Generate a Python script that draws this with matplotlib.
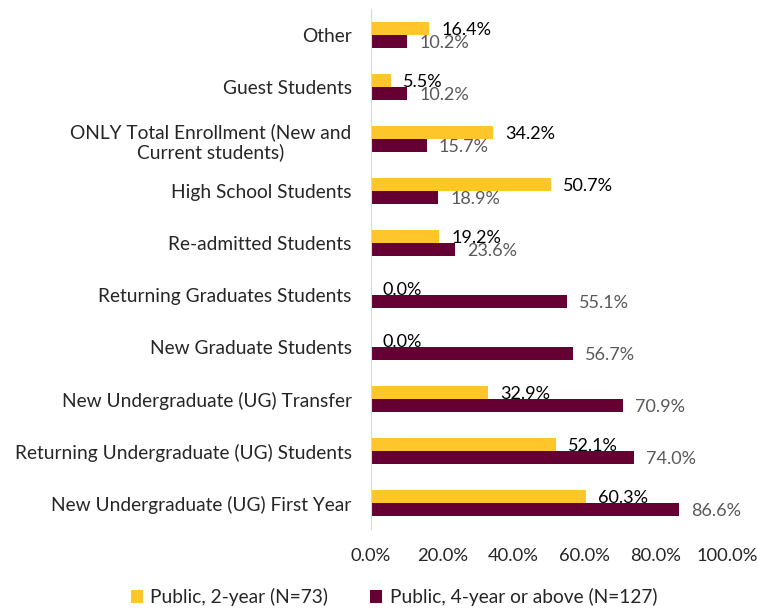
import matplotlib
matplotlib.use("Agg")
import matplotlib.pyplot as plt
import numpy as np

categories = [
    "Other",
    "Guest Students",
    "ONLY Total Enrollment (New and\nCurrent students)",
    "High School Students",
    "Re-admitted Students",
    "Returning Graduates Students",
    "New Graduate Students",
    "New Undergraduate (UG) Transfer",
    "Returning Undergraduate (UG) Students",
    "New Undergraduate (UG) First Year",
]
public_2yr = [16.4, 5.5, 34.2, 50.7, 19.2, 0.0, 0.0, 32.9, 52.1, 60.3]
public_4yr = [10.2, 10.2, 15.7, 18.9, 23.6, 55.1, 56.7, 70.9, 74.0, 86.6]
series_names = ["Public, 2-year (N=73)", "Public, 4-year or above (N=127)"]

plt.rcParams['font.family'] = ['Lato', 'DejaVu Sans']

fig = plt.figure(figsize=(7.58, 6.10), dpi=100)
ax = fig.add_axes([0.4894, 0.1328, 0.4697, 0.852])

y = np.arange(len(categories))
h = 0.25
b1 = ax.barh(y - h / 2, public_2yr, height=h, color="#FFC629", label=series_names[0])
b2 = ax.barh(y + h / 2, public_4yr, height=h, color="#660033", label=series_names[1])

for rect, v in zip(b1, public_2yr):
    ax.annotate(f"{v:.1f}%", (rect.get_width(), rect.get_y() + rect.get_height() / 2),
                xytext=(12, -1), textcoords="offset pixels", va="center", ha="left",
                fontsize=13, color="#000000")
for rect, v in zip(b2, public_4yr):
    ax.annotate(f"{v:.1f}%", (rect.get_width(), rect.get_y() + rect.get_height() / 2),
                xytext=(12, -1), textcoords="offset pixels", va="center", ha="left",
                fontsize=13, color="#595959")

ax.set_ylim(len(categories) - 0.5, -0.5)
ax.set_yticks(y)
ax.set_yticklabels(categories, fontsize=13.8, color="#262626", ha="right", multialignment="center")
ax.tick_params(axis="y", length=0, pad=14)
ax.set_xlim(0, 100)
ax.set_xticks(np.arange(0, 101, 20))
ax.set_xticklabels([f"{t:.1f}%" for t in range(0, 101, 20)], fontsize=13.2, color="#262626")
ax.tick_params(axis="x", length=0, pad=14)

for s in ["top", "right", "bottom"]:
    ax.spines[s].set_visible(False)
ax.spines["left"].set_color("#D9D9D9")

fig.legend(handles=[b1, b2], loc="center", bbox_to_anchor=(0.52, 0.021), ncol=2,
           frameon=False, fontsize=13.8, handlelength=0.6, handleheight=0.6,
           columnspacing=2.2, handletextpad=0.4, labelcolor="#262626")

fig.savefig("out.png", dpi=100)
